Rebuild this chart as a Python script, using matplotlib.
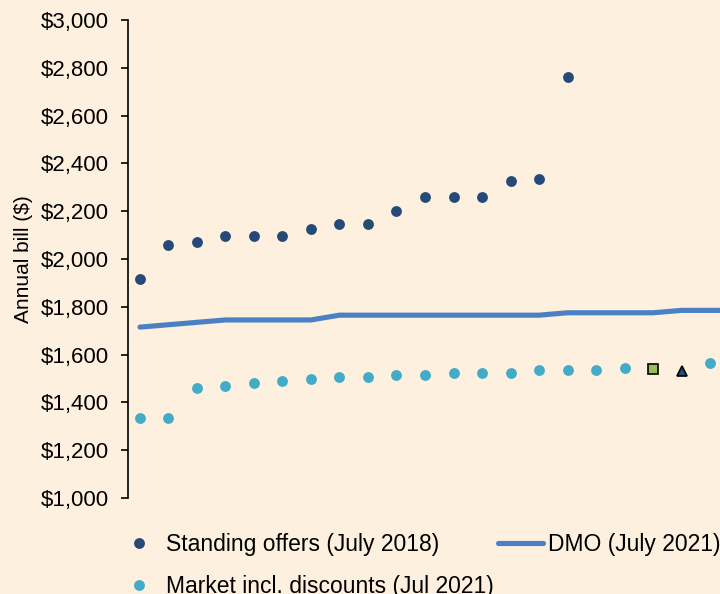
import matplotlib
matplotlib.use("Agg")
import matplotlib.pyplot as plt
from matplotlib.ticker import FuncFormatter

plt.rcParams['font.family'] = ['Liberation Sans', 'DejaVu Sans']

# standing offers (July 2018), sorted
standing = [1915, 2060, 2070, 2095, 2095, 2095, 2125, 2145, 2145, 2200,
            2260, 2260, 2260, 2325, 2335, 2760]
# market offers incl. discounts (Jul 2021)
market_idx = [0, 1, 2, 3, 4, 5, 6, 7, 8, 9, 10, 11, 12, 13, 14, 15, 16, 17, 20]
market = [1335, 1335, 1460, 1470, 1480, 1490, 1497, 1505, 1505, 1515,
          1515, 1525, 1525, 1525, 1535, 1535, 1535, 1545, 1565]
# highlighted offers
square_idx, square_val = 18, 1540
triangle_idx, triangle_val = 19, 1530
# DMO (July 2021)
dmo = [1715, 1725, 1735, 1745, 1745, 1745, 1745, 1765, 1765, 1765, 1765,
       1765, 1765, 1765, 1765, 1775, 1775, 1775, 1775, 1785, 1785, 1785]

bg = '#fdf0df'
fig = plt.figure(figsize=(7.2, 5.94), dpi=100, facecolor=bg)
ax = fig.add_axes([128/720, 96/594, 592/720, 478/594], facecolor=bg)

l1, = ax.plot(range(len(standing)), standing, 'o', color='#254a77',
              markersize=7.8, markeredgewidth=0, label='Standing offers (July 2018)')
l2, = ax.plot(market_idx, market, 'o', color='#42abc8',
              markersize=7.8, markeredgewidth=0, label='Market incl. discounts (Jul 2021)')
l3, = ax.plot(range(len(dmo)), dmo, '-', color='#4a80c4', linewidth=3.7,
              solid_capstyle='round', label='DMO (July 2021)')
ax.plot([square_idx], [square_val], 's', color='#9bbb59', markeredgecolor='black',
        markersize=7, markeredgewidth=1.2)
ax.plot([triangle_idx], [triangle_val], '^', color='#1f4e79', markeredgecolor='black',
        markersize=7, markeredgewidth=1.2)

ax.set_ylim(1000, 3000)
ax.set_yticks(range(1000, 3001, 200))
ax.yaxis.set_major_formatter(FuncFormatter(lambda v, p: '${:,.0f}'.format(v)))
ax.set_xlim(-0.42, 20.35)
ax.set_xticks([])
for s in ['top', 'right', 'bottom']:
    ax.spines[s].set_visible(False)
ax.spines['left'].set_linewidth(1.2)
ax.tick_params(axis='y', length=5, width=1.2, pad=9, labelsize=16, colors='black')
ax.set_ylabel('Annual bill ($)', fontsize=15)
ax.yaxis.set_label_coords(-0.16, 0.5)

fig.legend(handles=[l1, l2, l3], loc='upper left', ncol=2, frameon=False,
           bbox_to_anchor=(116/720, 1 - 533/594), fontsize=16.5,
           handlelength=2.0, handletextpad=0.2, columnspacing=0.15,
           labelspacing=0.85, borderpad=0, borderaxespad=0)

fig.savefig('out.png', dpi=100, facecolor=bg)
